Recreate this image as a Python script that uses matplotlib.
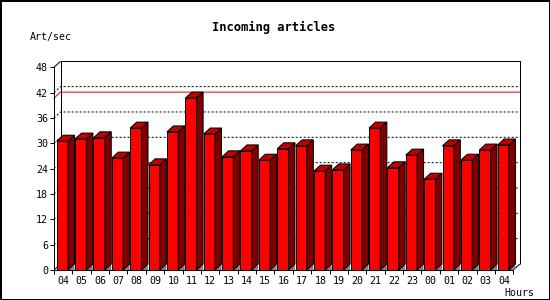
#import libraries
import matplotlib
matplotlib.use('Agg')
from matplotlib import pyplot as plt
from matplotlib.patches import Polygon

#data
hours = ['04', '05', '06', '07', '08', '09', '10', '11', '12', '13', '14', '15', '16',
         '17', '18', '19', '20', '21', '22', '23', '00', '01', '02', '03', '04']
art_per_sec = [30.5, 31.0, 31.3, 26.5, 33.6, 24.9, 32.7, 40.7, 32.2, 26.8, 28.2, 26.0, 28.7,
               29.4, 23.4, 23.7, 28.4, 33.6, 24.2, 27.2, 21.5, 29.4, 26.0, 28.4, 29.6]
yticks = [0, 6, 12, 18, 24, 30, 36, 42, 48]

px = 0.72  # one pixel in points at dpi 100
font = 'DejaVu Sans Mono'

fig = plt.figure(figsize=(5.5, 3), dpi=100)
fig.patch.set_facecolor('white')
fig.patch.set_edgecolor('black')
fig.patch.set_linewidth(2)

ax = fig.add_axes([54/550, 30/300, 459.3/550, 202.7/300])
n = len(hours)
ax.set_xlim(0, n)
ax.set_ylim(0, 48)
ax.set_facecolor('none')

#3d depth in data units
dx = 6.5 / 18.37
dy = 6.0 / 4.223

#back wall frame
kw = dict(color='black', lw=px, clip_on=False, solid_capstyle='butt')
ax.plot([dx, dx, n + dx, n + dx], [dy, 48 + dy, 48 + dy, dy], **kw)
ax.plot([0, dx], [48, 48 + dy], **kw)
ax.plot([0, dx], [0, dy], **kw)
ax.plot([n, n + dx], [0, dy], **kw)

#dotted grid on back wall and left wall
for v in yticks[1:-1]:
    ax.plot([0, dx, n + dx], [v, v + dy, v + dy], color='black', lw=px,
            ls=(0, (2, 2)), clip_on=False, zorder=1)

#max line
m = max(art_per_sec)
ax.plot([0, dx, n + dx], [m, m + dy, m + dy], color='#ee0000', lw=px, clip_on=False, zorder=1)

#bars
off = 2.7 / 18.37
w = 11.3 / 18.37
lefts = [i + off for i in range(n)]
ax.bar(lefts, art_per_sec, width=w, align='edge', color='#ff0000',
       edgecolor='black', linewidth=px, zorder=3, clip_on=False)
for x0, v in zip(lefts, art_per_sec):
    x1 = x0 + w
    top = Polygon([(x0, v), (x0 + dx, v + dy), (x1 + dx, v + dy), (x1, v)],
                  closed=True, facecolor='#c00000', edgecolor='black', lw=px, zorder=3, clip_on=False)
    side = Polygon([(x1, 0), (x1 + dx, dy), (x1 + dx, v + dy), (x1, v)],
                   closed=True, facecolor='#800000', edgecolor='black', lw=px, zorder=3, clip_on=False)
    floor = Polygon([(x1, 0), (x1 + dx, dy), (x1 + dx, 0)],
                    closed=True, facecolor='#808080', edgecolor='none', zorder=2, clip_on=False)
    ax.add_patch(floor)
    ax.add_patch(side)
    ax.add_patch(top)

#axes and ticks
for s in ['top', 'right']:
    ax.spines[s].set_visible(False)
for s in ['left', 'bottom']:
    ax.spines[s].set_linewidth(px)
    ax.spines[s].set_zorder(4)
ax.set_yticks(yticks)
ax.set_yticklabels([str(t) for t in yticks], fontfamily=font, fontsize=7.2)
ax.set_xticks(range(n + 1))
ax.set_xticklabels([])
ax.set_xticks([i + 0.5 for i in range(n)], minor=True)
ax.set_xticklabels(hours, minor=True, fontfamily=font, fontsize=7.2)
ax.tick_params(axis='both', which='major', length=4 * px, width=px, direction='out')
ax.tick_params(axis='y', pad=1.5)
ax.tick_params(axis='x', which='minor', length=0, pad=4.5)

#texts
fig.text(273.5/550, 1 - 27/300, 'Incoming articles', ha='center', va='center',
         fontfamily=font, fontsize=8.7, fontweight='bold')
fig.text(30/550, 1 - 37/300, 'Art/sec', ha='left', va='center', fontfamily=font, fontsize=7.2)
fig.text(504/550, 1 - 292.5/300, 'Hours', ha='left', va='center', fontfamily=font, fontsize=7.2)

fig.savefig('out.png', dpi=100)
